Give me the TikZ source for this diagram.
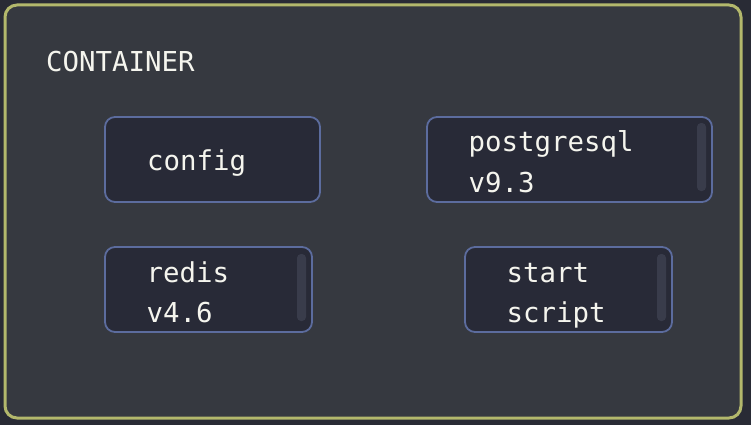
\documentclass[tikz,border=0pt]{standalone}
\usepackage{fontspec}
\setmonofont{DejaVu Sans Mono}
\definecolor{outerbg}{HTML}{292B35}
\definecolor{contfill}{HTML}{363940}
\definecolor{contline}{HTML}{B3B86C}
\definecolor{boxfill}{HTML}{282A37}
\definecolor{boxline}{HTML}{5C6C9E}
\definecolor{scrollc}{HTML}{393C4B}
\definecolor{txtc}{HTML}{F5F5EE}
\begin{document}
\begin{tikzpicture}[x=1pt,y=-1pt,
  container/.style={draw=contline, fill=contfill, line width=3pt, rounded corners=12pt},
  itembox/.style={draw=boxline, fill=boxfill, line width=1.8pt, rounded corners=10pt},
  scrollbar/.style={fill=scrollc, rounded corners=4pt},
  lbl/.style={anchor=base west, inner sep=0pt, text=txtc, font=\ttfamily\fontsize{27.4}{41}\selectfont}]
\fill[outerbg] (0,0) rectangle (751,425);
\useasboundingbox (0,0) rectangle (751,425);
\draw[container] (5,5) rectangle (741,418);
\node[lbl] (title) at (46,72) {CONTAINER};
% config
\draw[itembox] (105,117) rectangle (320,202);
\node[lbl] (config) at (147,170) {config};
% postgresql
\draw[itembox] (427,117) rectangle (712,202);
\fill[scrollbar] (697,123) rectangle (706,191);
\node[lbl] (pg1) at (468.5,151) {postgresql};
\node[lbl] (pg2) at (468.5,192) {v9.3};
% redis
\draw[itembox] (105,247) rectangle (312,332);
\fill[scrollbar] (297,254) rectangle (306,321);
\node[lbl] (rd1) at (146.5,282) {redis};
\node[lbl] (rd2) at (146.5,322) {v4.6};
% start script
\draw[itembox] (465,247) rectangle (672,332);
\fill[scrollbar] (657,254) rectangle (666,321);
\node[lbl] (st1) at (506.5,282) {start};
\node[lbl] (st2) at (506.5,322) {script};
\end{tikzpicture}
\end{document}
